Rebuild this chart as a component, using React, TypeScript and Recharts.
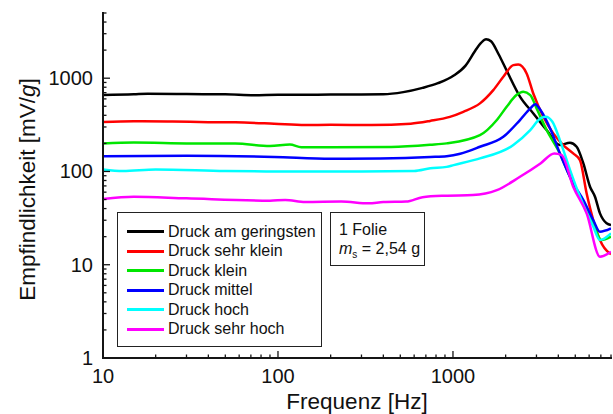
import React from "react";
import { LineChart, Line, XAxis, YAxis, Legend } from "recharts";

// ---------- data ----------
const blackF = [10, 15, 18, 30, 50, 73, 100, 150, 200, 300, 400, 520, 670, 820, 1010, 1180, 1340, 1450, 1545, 1650, 1820, 2030, 2420, 2880, 3430, 4080, 4660, 5090, 5560, 6070, 6480, 6920, 7550, 8000];
const blackV = [660, 672, 681, 675, 672, 658, 665, 665, 667, 670, 672, 709, 788, 884, 1067, 1365, 1972, 2400, 2620, 2485, 1818, 1200, 631, 419, 278, 192, 203, 184, 122, 68.6, 53.6, 35.5, 27.8, 26.6];

const redF = [10, 15, 25, 40, 57, 95, 143, 200, 343, 574, 740, 960, 1146, 1426, 1700, 1940, 2213, 2362, 2636, 2877, 3283, 3743, 4266, 4864, 5318, 5807, 6338, 6918, 7890, 8000];
const redV = [339, 346, 343, 338, 336, 325, 315, 316, 315, 325, 348, 385, 436, 537, 745, 1035, 1381, 1400, 1125, 686, 386, 256, 192, 156, 132, 58, 30, 18.4, 13.2, 13];

const greenF = [10, 15, 30, 57, 90, 117, 136, 200, 443, 742, 920, 1426, 1781, 2027, 2305, 2522, 2765, 3034, 3428, 4083, 4663, 5318, 6338, 7040, 8000];
const greenV = [199, 204, 200, 199, 188, 194, 182, 182, 183, 193, 200, 245, 356, 494, 659, 714, 659, 455, 278, 156, 87.7, 53.6, 27.8, 18.4, 20];

const blueF = [10, 30, 95, 200, 383, 742, 920, 1100, 1426, 1939, 2415, 2765, 2954, 3162, 3623, 4083, 4864, 5560, 6338, 6918, 8000];
const blueV = [146, 147, 143, 137, 138, 143, 146, 155, 184, 235, 356, 474, 527, 455, 278, 156, 74.5, 49.3, 30, 22.6, 24.5];

const cyanF = [10, 13, 20, 50, 100, 300, 600, 742, 920, 1009, 1426, 2213, 2765, 3162, 3386, 3700, 4083, 4663, 5318, 6338, 6918, 8000];
const cyanV = [105, 101, 105, 101, 100, 100, 101, 108, 112, 117, 138, 192, 278, 371, 386, 341, 217, 104, 53.6, 25.6, 18.4, 21.7];

const magentaF = [10, 15, 30, 90, 110, 143, 230, 330, 400, 540, 670, 900, 1300, 1781, 2415, 3162, 3794, 4180, 4864, 5807, 6918, 8000];
const magentaV = [50.7, 53.7, 51.5, 48.6, 49.5, 47.1, 47.5, 45.5, 47, 47.5, 53, 55, 55.8, 63, 87.7, 122, 156, 150, 68.6, 35.5, 12.2, 13.8];

const seriesNames = [
  "Druck am geringsten",
  "Druck sehr klein",
  "Druck klein",
  "Druck mittel",
  "Druck hoch",
  "Druck sehr hoch",
];
const seriesColors = ["#000000", "#ff0000", "#00e600", "#0000ff", "#00ffff", "#ff00ff"];
const seriesF = [blackF, redF, greenF, blueF, cyanF, magentaF];
const seriesV = [blackV, redV, greenV, blueV, cyanV, magentaV];

const xTicks = [10, 20, 30, 40, 50, 60, 70, 80, 90, 100, 200, 300, 400, 500, 600, 700, 800, 900, 1000, 2000, 3000, 4000, 5000, 6000, 7000, 8000];
const xMajor = [10, 100, 1000];
const yTicks = [1, 2, 3, 4, 5, 6, 7, 8, 9, 10, 20, 30, 40, 50, 60, 70, 80, 90, 100, 200, 300, 400, 500, 600, 700, 800, 900, 1000, 2000, 3000, 4000, 5000];
const yMajor = [1, 10, 100, 1000];

const xTitle = "Frequenz [Hz]";
const yTitleMain = "Empfindlichkeit [mV/";
const yTitleItalic = "g";
const yTitleEnd = "]";
const infoLine1 = "1 Folie";
const infoMass = "2,54 g";

const FONT = "'Liberation Sans', Arial, sans-serif";
const AXIS = "#151515";

const seriesData = seriesF.map((fs, i) => fs.map((f, j) => ({ f, v: seriesV[i][j] })));

// ---------- ticks ----------
const BottomTick = (p: any) => {
  const { x, y, payload } = p;
  const major = xMajor.includes(payload.value);
  return (
    <g>
      <line x1={x} x2={x} y1={y} y2={y - (major ? 7 : 3.5)} stroke={AXIS} strokeWidth={1.3} />
      {major && (
        <text x={x} y={y + 25} textAnchor="middle" fontSize={20} fontFamily={FONT} fill="#111">
          {payload.value}
        </text>
      )}
    </g>
  );
};
const TopTick = (p: any) => {
  const { x, y, payload } = p;
  const major = xMajor.includes(payload.value);
  return <line x1={x} x2={x} y1={y} y2={y + (major ? 7 : 3.5)} stroke={AXIS} strokeWidth={1.3} />;
};
const LeftTick = (p: any) => {
  const { x, y, payload } = p;
  const major = yMajor.includes(payload.value);
  return (
    <g>
      <line x1={x} x2={x + (major ? 7 : 3.5)} y1={y} y2={y} stroke={AXIS} strokeWidth={1.3} />
      {major && (
        <text x={x - 10} y={y + 7} textAnchor="end" fontSize={20} fontFamily={FONT} fill="#111">
          {payload.value}
        </text>
      )}
    </g>
  );
};
const RightTick = (p: any) => {
  const { x, y, payload } = p;
  const major = yMajor.includes(payload.value);
  return <line x1={x} x2={x - (major ? 7 : 3.5)} y1={y} y2={y} stroke={AXIS} strokeWidth={1.3} />;
};

const XTitle = (p: any) => {
  const vb = p.viewBox;
  return (
    <text x={vb.x + vb.width / 2} y={vb.y + 51} textAnchor="middle" fontSize={22.5} fontFamily={FONT} fill="#111">
      {xTitle}
    </text>
  );
};
const YTitle = (p: any) => {
  const vb = p.viewBox;
  const cx = 27;
  const cy = vb.y + vb.height / 2 + 4;
  return (
    <text
      x={cx}
      y={cy}
      transform={`rotate(-90 ${cx} ${cy})`}
      textAnchor="middle"
      dominantBaseline="central"
      fontSize={22.5}
      fontFamily={FONT}
      fill="#111"
    >
      {yTitleMain}
      <tspan fontStyle="italic">{yTitleItalic}</tspan>
      {yTitleEnd}
    </text>
  );
};

const LegendBox = () => (
  <div
    style={{
      boxSizing: "border-box",
      width: 205,
      height: 135,
      border: "1px solid #222",
      background: "#fff",
      padding: "9px 0 0 9px",
      fontFamily: FONT,
      fontSize: 16,
      color: "#111",
    }}
  >
    {seriesNames.map((name, i) => (
      <div key={name} style={{ display: "flex", alignItems: "center", height: 19.5 }}>
        <div style={{ width: 37, height: 3, background: seriesColors[i], marginRight: 4 }} />
        <span style={{ whiteSpace: "nowrap" }}>{name}</span>
      </div>
    ))}
  </div>
);

export default function App() {
  return (
    <div style={{ position: "absolute", left: 0, top: 0, width: 613, height: 414, background: "#fff", overflow: "hidden" }}>
      <LineChart width={613} height={414} margin={{ top: 13, right: 2, bottom: 0, left: 0 }}>
        <XAxis
          xAxisId="b"
          type="number"
          dataKey="f"
          scale="log"
          domain={[10, 8000]}
          allowDataOverflow
          ticks={xTicks}
          interval={0}
          tick={<BottomTick />}
          tickLine={false}
          tickSize={0}
          tickMargin={0}
          height={56}
          axisLine={{ stroke: AXIS, strokeWidth: 2, strokeLinecap: "square" }}
          label={<XTitle />}
        />
        <XAxis
          xAxisId="t"
          orientation="top"
          type="number"
          dataKey="f"
          scale="log"
          domain={[10, 8000]}
          allowDataOverflow
          ticks={xTicks}
          interval={0}
          tick={<TopTick />}
          tickLine={false}
          tickSize={0}
          tickMargin={0}
          height={0}
          axisLine={{ stroke: AXIS, strokeWidth: 2, strokeLinecap: "square" }}
        />
        <YAxis
          yAxisId="l"
          type="number"
          dataKey="v"
          scale="log"
          domain={[1, 5000]}
          allowDataOverflow
          ticks={yTicks}
          interval={0}
          tick={<LeftTick />}
          tickLine={false}
          tickSize={0}
          tickMargin={0}
          width={103}
          axisLine={{ stroke: AXIS, strokeWidth: 2, strokeLinecap: "square" }}
          label={<YTitle />}
        />
        <YAxis
          yAxisId="r"
          orientation="right"
          type="number"
          dataKey="v"
          scale="log"
          domain={[1, 5000]}
          allowDataOverflow
          ticks={yTicks}
          interval={0}
          tick={<RightTick />}
          tickLine={false}
          tickSize={0}
          tickMargin={0}
          width={0}
          axisLine={{ stroke: AXIS, strokeWidth: 2, strokeLinecap: "square" }}
        />
        {seriesData.map((d, i) => (
          <Line
            key={seriesNames[i]}
            name={seriesNames[i]}
            data={d}
            dataKey="v"
            xAxisId="b"
            yAxisId="l"
            type="monotone"
            stroke={seriesColors[i]}
            strokeWidth={2.5}
            dot={false}
            activeDot={false}
            isAnimationActive={false}
          />
        ))}
        <Legend
          layout="vertical"
          verticalAlign="middle"
          align="center"
          content={<LegendBox />}
          wrapperStyle={{ position: "absolute", left: 117, top: 212, width: 205, height: 135 }}
        />
      </LineChart>
      <div
        style={{
          position: "absolute",
          left: 330,
          top: 212,
          width: 95,
          height: 54,
          boxSizing: "border-box",
          border: "1px solid #222",
          background: "#fff",
          fontFamily: FONT,
          fontSize: 16,
          color: "#111",
          padding: "7px 0 0 8px",
          lineHeight: "19px",
        }}
      >
        <div>{infoLine1}</div>
        <div style={{ whiteSpace: "nowrap" }}>
          <i>m</i>
          <sub style={{ fontSize: 10 }}>s</sub> = {infoMass}
        </div>
      </div>
    </div>
  );
}
